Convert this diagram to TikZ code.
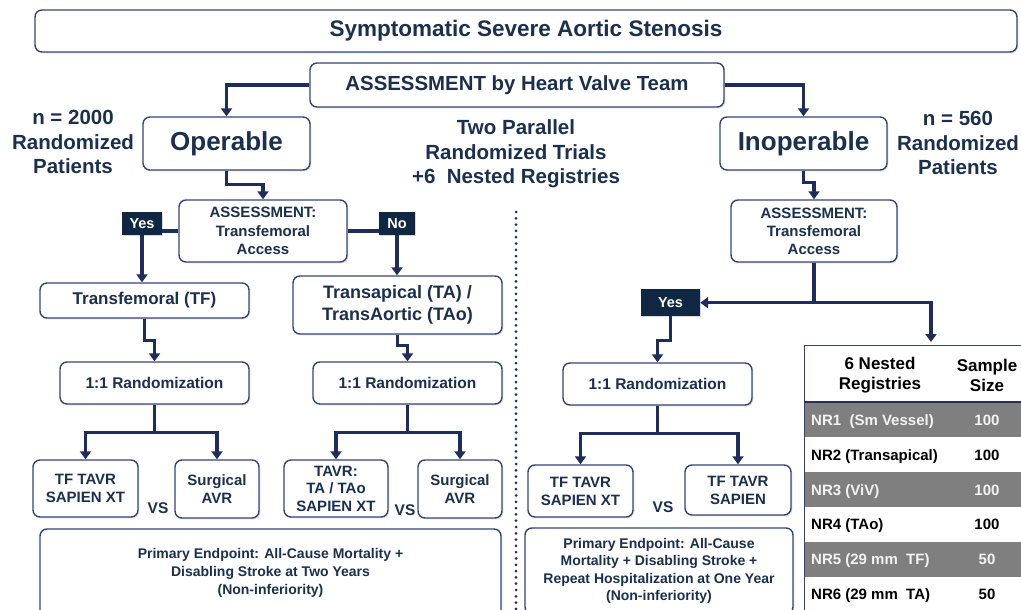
\documentclass[tikz,border=0pt]{standalone}
\usepackage{fontspec}
\setmainfont{Liberation Sans}
\usetikzlibrary{arrows.meta,shadows}
\definecolor{navytext}{HTML}{1B2F4F}
\definecolor{flowblue}{HTML}{1F2D5C}
\definecolor{boxline}{HTML}{34447A}
\definecolor{yesfill}{HTML}{0F2743}
\definecolor{rowgrey}{HTML}{7F7F7F}
\definecolor{rowwhite}{HTML}{F2F2F2}
\newcommand{\fsz}[2]{\fontsize{#1}{#2}\selectfont\bfseries}
\tikzset{
    box/.style={draw=boxline, line width=1.4pt, rounded corners=7pt, fill=white,
        text=navytext, align=center, inner sep=0pt,
        drop shadow={opacity=0.25, shadow xshift=1.3pt, shadow yshift=-1.3pt}},
    tag/.style={fill=yesfill, text=white, inner sep=0pt, font=\fsz{14.5}{16},
        drop shadow={opacity=0.3, shadow xshift=1.3pt, shadow yshift=-1.3pt}},
    flow/.style={flowblue, line width=3.2pt, -{Triangle[length=8pt,width=11pt]}},
    link/.style={flowblue, line width=3.2pt},
    sidetext/.style={text=navytext, align=center, font=\fsz{20.5}{24.5}},
    vstext/.style={text=navytext, font=\fsz{15.5}{18}},
    rowtext/.style={font=\fsz{15}{18}, text height=11pt, text depth=3pt, inner sep=0pt},
}
\begin{document}
\begin{tikzpicture}[x=1pt, y=-1pt]
    \useasboundingbox (0,0) rectangle (1021,610);

    \node[box, minimum width=982pt, minimum height=42pt, font=\fsz{22.5}{26}] (title) at (526,31) {Symptomatic Severe Aortic Stenosis};
    \node[box, minimum width=414pt, minimum height=44pt, font=\fsz{20.4}{24}] (assess) at (517,85) {ASSESSMENT by Heart Valve Team};
    \node[box, minimum width=167pt, minimum height=53pt, font=\fsz{26}{30}] (oper) at (226.5,143.5) {Operable};
    \node[box, minimum width=167pt, minimum height=53pt, font=\fsz{26}{30}] (inop) at (803.5,143.5) {Inoperable};

    \node[sidetext] (nleft) at (73,142) {n = 2000\\Randomized\\Patients};
    \node[sidetext] (nright) at (958,143) {n = 560\\Randomized\\Patients};
    \node[sidetext] (trials) at (516,154) {Two Parallel\\Randomized Trials\\+6\ \ Nested Registries};

    \node[box, minimum width=168pt, minimum height=62pt, font=\fsz{15}{18.5}] (lassess) at (263,231) {ASSESSMENT:\\Transfemoral\\Access};
    \node[tag, minimum width=40pt, minimum height=23pt] (lyes) at (142,223.5) {Yes};
    \node[tag, minimum width=36pt, minimum height=23pt] (lno) at (397,223.5) {No};

    \node[box, minimum width=209pt, minimum height=35pt, font=\fsz{17}{20}] (tf) at (144.5,300.5) {Transfemoral (TF)};
    \node[box, minimum width=209pt, minimum height=58pt, font=\fsz{18}{22}] (ta) at (397.5,305) {Transapical (TA) /\\TransAortic (TAo)};

    \node[box, minimum width=189pt, minimum height=42pt, font=\fsz{15.5}{18}] (rand1) at (154.5,383) {1:1 Randomization};
    \node[box, minimum width=189pt, minimum height=42pt, font=\fsz{15.5}{18}] (rand2) at (407.5,383) {1:1 Randomization};

    \node[box, minimum width=105pt, minimum height=57pt, font=\fsz{15}{18}] (tfx) at (85.5,488.5) {TF TAVR\\SAPIEN XT};
    \node[box, minimum width=84pt, minimum height=58pt, font=\fsz{15}{18}] (sur1) at (217,489) {Surgical\\AVR};
    \node[vstext] (vs1) at (158,508) {VS};
    \node[box, minimum width=104pt, minimum height=57pt, font=\fsz{15}{17.5}] (tavr) at (336,488.5) {TAVR:\\TA / TAo\\SAPIEN XT};
    \node[box, minimum width=84pt, minimum height=58pt, font=\fsz{15}{18}] (sur2) at (460,489) {Surgical\\AVR};
    \node[vstext] (vs2) at (405,510) {VS};

    \node[box, minimum width=461pt, minimum height=88pt, font=\fsz{14}{18}] (endl) at (270.5,573) {Primary Endpoint: All-Cause Mortality +\\Disabling Stroke at Two Years\\(Non-inferiority)};

    \node[box, minimum width=166pt, minimum height=62pt, font=\fsz{15}{18}] (rassess) at (814,231) {ASSESSMENT:\\Transfemoral\\Access};
    \node[tag, minimum width=59pt, minimum height=27pt] (ryes) at (670.5,302.5) {Yes};
    \node[box, minimum width=189pt, minimum height=42pt, font=\fsz{15.5}{18}] (rand3) at (657.5,384) {1:1 Randomization};
    \node[box, minimum width=105pt, minimum height=52pt, font=\fsz{15}{18}] (rtfx) at (580.5,491) {TF TAVR\\SAPIEN XT};
    \node[box, minimum width=106pt, minimum height=50pt, font=\fsz{15}{18}] (rtf) at (738,490) {TF TAVR\\SAPIEN};
    \node[vstext] (vs3) at (663,507) {VS};
    \node[box, minimum width=268pt, minimum height=86pt, font=\fsz{14}{17.5}] (endr) at (659,571) {Primary Endpoint: All-Cause\\Mortality + Disabling Stroke +\\Repeat Hospitalization at One Year\\(Non-inferiority)};

    \coordinate (divtop) at (516,212);
    \coordinate (divbot) at (516,612);
    \draw[flowblue, line width=3pt, dash pattern=on 0pt off 6.3pt, line cap=round] (divtop) -- (divbot);

    \draw[flow] (assess.west) -| (oper.north);
    \draw[flow] (assess.east) -| (inop.north);
    \draw[flow] (oper.south) -- ++(0,14) -| (lassess.north);
    \draw[flow] (inop.south) -- ++(0,12) -| (rassess.north);

    \draw[link] (lassess.west) -- (lassess.west -| lyes.east);
    \draw[flow] (lyes.south) -- (lyes.south |- tf.north);
    \draw[link] (lassess.east) -- (lassess.east -| lno.west);
    \draw[flow] (lno.south) -- (lno.south |- ta.north);
    \draw[flow] (tf.south) -- ++(0,22) -| (rand1.north);
    \draw[flow] (ta.south) -- ++(0,11) -| (rand2.north);

    \draw[link] (rand1.south) -- ++(0,28) coordinate (lsplit);
    \draw[flow] (lsplit) -| (tfx.north);
    \draw[flow] (lsplit) -| (sur1.north);
    \draw[link] (rand2.south) -- ++(0,28) coordinate (msplit);
    \draw[flow] (msplit) -| (tavr.north);
    \draw[flow] (msplit) -| (sur2.north);

    \coordinate (regtop) at (931,342);
    \draw[link] (rassess.south) -- ++(0,40) coordinate (rsplit);
    \draw[flow] (rsplit) -- (rsplit -| ryes.east);
    \draw[flow] (rsplit) -| (regtop);
    \draw[flow] (ryes.south) -- ++(0,24) -| (rand3.north);
    \draw[link] (rand3.south) -- ++(0,28) coordinate (rrsplit);
    \draw[flow] (rrsplit) -| (rtfx.north);
    \draw[flow] (rrsplit) -| (rtf.north);

    \fill[white] (804,345) rectangle (1021,610);
    \foreach \top in {402,472,542}{
        \fill[rowgrey] (804,\top) rectangle (1021,\top+35);
        };
    \draw[boxline, line width=1pt] (1021,345) -- (804,345) -- (804,612);
    \draw[boxline!70!black, line width=2.5pt] (804,402) -- (1021,402);
    \node[font=\fsz{17}{20}, align=center] (reghead) at (880,375) {6 Nested\\Registries};
    \node[font=\fsz{17}{20}, align=center] (sizehead) at (987,375) {Sample\\Size};
    \foreach \y/\lab/\num/\tcol [count=\i] in {421/{NR1\ \ (Sm Vessel)}/100/rowwhite,
            456/{NR2 (Transapical)}/100/black, 491/{NR3 (ViV)}/100/rowwhite,
            525/{NR4 (TAo)}/100/black, 560/{NR5 (29 mm\ \ TF)}/50/rowwhite,
            595/{NR6 (29 mm\ \ TA)}/50/black}{
        \node[rowtext, text=\tcol, anchor=west] (nr\i) at (811,\y) {\lab};
        \node[rowtext, text=\tcol] (size\i) at (987,\y) {\num};
        };
\end{tikzpicture}
\end{document}
